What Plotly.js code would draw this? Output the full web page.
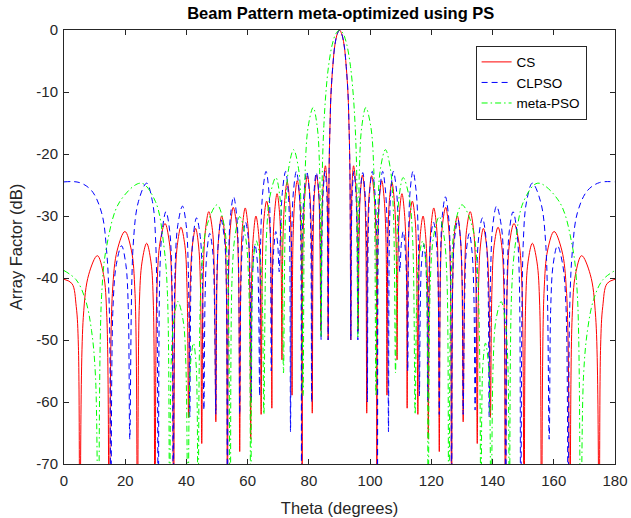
<!DOCTYPE html>
<html>
<head>
<meta charset="utf-8">
<script src="https://cdn.plot.ly/plotly-3.0.1.min.js"></script>
<style>body{margin:0;padding:0;background:#fff;}#chart{width:631px;height:518px;}</style>
</head>
<body>
<div id="chart"></div>
<script>
// Theta (degrees) and array factor (dB)
const csTheta = [0,2.6,4.0,4.7,5.2,6.3,8.1,10.9,12.9,14.0,14.8,15.8,17.4,19.9,22.0,23.2,24.0,24.6,25.5,27.0,28.4,29.2,29.7,30.4,31.4,33.0,34.4,35.2,35.8,36.3,37.0,38.2,39.5,40.2,40.7,41.2,41.9,43.0,44.0,44.6,45.0,45.5,46.2,47.3,48.5,49.1,49.6,50.0,50.6,51.5,52.5,53.0,53.4,53.8,54.4,55.3,56.4,57.0,57.4,57.8,58.3,59.2,60.1,60.6,61.0,61.3,61.9,62.7,63.6,64.1,64.4,64.8,65.3,66.2,67.1,67.6,67.9,68.2,68.8,69.6,70.4,70.9,71.2,71.5,72.1,72.9,73.7,74.2,74.5,74.8,75.4,76.2,77.0,77.5,77.8,78.1,78.7,79.5,80.3,80.8,81.1,81.4,81.8,82.5,83.2,83.6,83.9,84.2,84.7,85.4,85.9,86.1,86.3,86.6,86.9,87.2,87.8,88.5,89.3,90,
90.7,91.5,92.2,92.8,93.1,93.4,93.7,93.9,94.1,94.6,95.3,95.8,96.1,96.4,96.8,97.5,98.2,98.6,98.9,99.2,99.7,100.5,101.3,101.9,102.2,102.5,103.0,103.8,104.6,105.2,105.5,105.8,106.3,107.1,107.9,108.5,108.8,109.1,109.6,110.4,111.2,111.8,112.1,112.4,112.9,113.8,114.7,115.2,115.6,115.9,116.4,117.3,118.1,118.7,119.0,119.4,119.9,120.8,121.7,122.2,122.6,123.0,123.6,124.7,125.6,126.2,126.6,127.0,127.5,128.5,129.4,130.0,130.4,130.9,131.5,132.7,133.8,134.5,135.0,135.4,136.0,137.0,138.1,138.8,139.3,139.8,140.5,141.8,143.0,143.7,144.2,144.8,145.6,147.0,148.6,149.6,150.3,150.8,151.6,153.0,154.5,155.4,156.0,156.8,158.0,160.1,162.6,164.2,165.2,166.0,167.1,169.1,171.9,173.7,174.8,175.3,176.0,177.4,180];
const csDb = [-40.2,-40.9,-44.6,-51,-85,-46.4,-39.4,-36.4,-39.4,-46.4,-85,-42.5,-35.5,-32.5,-35.5,-42.5,-85,-44.4,-37.4,-34.4,-37.4,-44.4,-85,-41.2,-34.2,-31.2,-34.2,-41.2,-85,-41.8,-34.8,-31.8,-34.8,-41.8,-62.5,-42,-35,-32,-35,-42,-66.7,-39.3,-32.3,-29.3,-32.3,-39.3,-63.2,-40,-33,-30,-33,-40,-85,-38.6,-31.6,-28.6,-31.6,-38.6,-68,-38.7,-31.7,-28.7,-31.7,-38.7,-66,-40,-33,-30,-33,-40,-62,-37.6,-30.6,-27.6,-30.6,-37.6,-61,-36.4,-29.4,-26.4,-29.4,-36.4,-53.2,-34.5,-27.5,-24.5,-27.5,-34.5,-58.9,-34.3,-27.3,-24.3,-27.3,-34.3,-75,-33.5,-26.5,-23.5,-26.5,-33.5,-61.8,-33.4,-26.4,-23.4,-26.4,-33.4,-48.5,-31.9,-24.9,-21.9,-24.9,-31.9,-50,-22.5,-15.4,-10.5,-5.9,-2.4,-0.6,0,
-0.6,-2.4,-5.9,-10.5,-15.4,-22.5,-50,-31.9,-24.9,-21.9,-24.9,-31.9,-48.5,-33.4,-26.4,-23.4,-26.4,-33.4,-61.8,-33.5,-26.5,-23.5,-26.5,-33.5,-75,-34.3,-27.3,-24.3,-27.3,-34.3,-58.9,-34.5,-27.5,-24.5,-27.5,-34.5,-53.2,-36.4,-29.4,-26.4,-29.4,-36.4,-61,-37.6,-30.6,-27.6,-30.6,-37.6,-62,-40,-33,-30,-33,-40,-66,-38.7,-31.7,-28.7,-31.7,-38.7,-68,-38.6,-31.6,-28.6,-31.6,-38.6,-85,-40,-33,-30,-33,-40,-63.2,-39.3,-32.3,-29.3,-32.3,-39.3,-66.7,-42,-35,-32,-35,-42,-62.5,-41.8,-34.8,-31.8,-34.8,-41.8,-85,-41.2,-34.2,-31.2,-34.2,-41.2,-85,-44.4,-37.4,-34.4,-37.4,-44.4,-85,-42.5,-35.5,-32.5,-35.5,-42.5,-85,-46.4,-39.4,-36.4,-39.4,-46.4,-85,-51,-44.6,-40.9,-40.2];

const clTheta = [0,5,9,12.3,13.9,14.8,15.3,16.0,17.1,18.8,20.2,21.0,21.5,22.6,24.3,27.0,28.9,30.0,30.8,31.3,32.1,33.3,34.5,35.2,35.7,36.3,37.2,38.7,39.9,40.6,41.1,41.5,42.2,43.3,44.5,45.2,45.7,46.1,46.7,47.6,48.6,49.1,49.6,49.9,50.5,51.3,52.4,53.0,53.4,53.8,54.4,55.4,56.4,57.0,57.4,57.8,58.4,59.3,60.3,60.8,61.2,61.4,61.8,62.4,63.2,63.6,63.9,64.3,65.0,66.0,66.9,67.4,67.7,68.0,68.5,69.2,69.8,70.3,70.7,71.4,72.4,73.2,73.7,74.0,74.4,75.0,75.9,76.8,77.3,77.6,77.9,78.5,79.3,80.1,80.6,80.9,81.2,81.7,82.4,83.2,83.7,84.0,84.3,84.7,85.3,85.8,86.1,86.3,86.6,86.9,87.2,87.8,88.5,89.3,90,
90.7,91.5,92.2,92.8,93.1,93.4,93.7,93.9,94.2,94.7,95.3,95.7,96.0,96.3,96.8,97.6,98.3,98.8,99.1,99.4,99.9,100.7,101.5,102.1,102.4,102.7,103.2,104.1,105.0,105.6,106.0,106.3,106.8,107.6,108.6,109.3,109.7,110.2,110.8,111.5,112.0,112.3,112.6,113.1,114.0,115.0,115.7,116.1,116.4,116.8,117.6,118.2,118.6,118.8,119.2,119.7,120.7,121.6,122.2,122.6,123.0,123.6,124.6,125.6,126.2,126.6,127.0,127.6,128.7,129.5,130.1,130.4,130.9,131.4,132.4,133.3,133.9,134.3,134.8,135.5,136.7,137.8,138.5,138.9,139.4,140.1,141.3,142.8,143.7,144.3,144.8,145.5,146.7,147.9,148.7,149.2,150.0,151.1,153.0,155.7,157.4,158.5,159.0,159.8,161.2,162.9,164.0,164.7,165.2,166.1,167.7,171,175,180];
const clDb = [-24.5,-24.6,-25.9,-29.5,-35.5,-45,-85,-44.8,-37.8,-34.8,-37.8,-44.8,-66,-34.7,-27.7,-24.7,-27.7,-34.7,-85,-39.3,-32.3,-29.3,-32.3,-39.3,-85,-38.4,-31.4,-28.4,-31.4,-38.4,-62.4,-40.3,-33.3,-30.3,-33.3,-40.3,-61.3,-42.8,-35.8,-32.8,-35.8,-42.8,-62,-40.6,-33.6,-30.6,-33.6,-40.6,-85,-36.9,-29.9,-26.9,-29.9,-36.9,-62,-41,-34,-31,-34,-41,-60,-44.6,-37.6,-34.6,-37.6,-44.6,-59,-32.8,-25.8,-22.8,-25.8,-32.8,-55,-42.5,-35.5,-32.5,-34.5,-39,-32.8,-25.8,-22.8,-25.8,-32.8,-64.8,-32.8,-25.8,-22.8,-25.8,-32.8,-85,-32.8,-25.8,-22.8,-25.8,-32.8,-60,-33,-26,-23,-26,-33,-50,-32.8,-25.8,-22.8,-25.8,-32.8,-50,-22.5,-15.4,-10.5,-5.9,-2.4,-0.6,0,
-0.6,-2.4,-5.9,-10.5,-15.4,-22.5,-50,-32.8,-25.8,-22.8,-25.8,-32.8,-50,-33,-26,-23,-26,-33,-60,-32.8,-25.8,-22.8,-25.8,-32.8,-85,-32.8,-25.8,-22.8,-25.8,-32.8,-64.8,-32.8,-25.8,-22.8,-25.8,-32.8,-39,-34.5,-32.5,-35.5,-42.5,-55,-32.8,-25.8,-22.8,-25.8,-32.8,-59,-44.6,-37.6,-34.6,-37.6,-44.6,-60,-41,-34,-31,-34,-41,-62,-36.9,-29.9,-26.9,-29.9,-36.9,-85,-40.6,-33.6,-30.6,-33.6,-40.6,-62,-42.8,-35.8,-32.8,-35.8,-42.8,-61.3,-40.3,-33.3,-30.3,-33.3,-40.3,-62.4,-38.4,-31.4,-28.4,-31.4,-38.4,-85,-39.3,-32.3,-29.3,-32.3,-39.3,-85,-34.7,-27.7,-24.7,-27.7,-34.7,-66,-44.8,-37.8,-34.8,-37.8,-44.8,-85,-45,-35.5,-29.5,-25.9,-24.6,-24.5];

const mpTheta = [0,4,7,9,10.3,11.2,12.3,14.0,18.2,25.2,29.9,32.6,33.8,34.5,35.0,35.9,37.2,38.9,39.8,40.5,40.9,41.4,42.3,43.1,43.5,43.8,45.0,46.9,50.0,52.2,53.4,54.3,54.9,55.9,57.4,59.2,60.3,61.0,61.4,61.9,62.8,64.1,64.8,65.3,66.1,67.3,69.2,70.5,71.2,71.7,72.4,73.4,75.0,76.6,77.5,78.1,78.8,79.8,81.4,82.7,83.5,84.0,84.4,84.9,85.5,86.4,87.6,88.8,90,
91.2,92.4,93.6,94.5,95.1,95.6,96.0,96.5,97.3,98.6,100.2,101.2,101.9,102.5,103.4,105.0,106.6,107.6,108.3,108.8,109.5,110.8,112.7,113.9,114.7,115.2,115.9,117.2,118.1,118.6,119.0,119.7,120.8,122.6,124.1,125.1,125.7,126.6,127.8,130.0,133.1,135.0,136.2,136.5,136.9,137.7,138.6,139.1,139.5,140.2,141.1,142.8,144.1,145.0,145.5,146.2,147.4,150.1,154.8,161.8,166.0,167.7,168.8,169.7,171,173,176,180];
const mpDb = [-38.8,-40.3,-43.5,-48.5,-56,-85,-42.7,-34.7,-27.7,-24.7,-27.7,-34.7,-42.7,-85,-53.8,-46.8,-43.8,-46.8,-53.8,-85,-60.5,-53.5,-50.5,-53.5,-60.5,-85,-38.2,-31.2,-28.2,-31.2,-38.2,-85,-40.1,-33.1,-30.1,-33.1,-40.1,-85,-44,-37,-34,-37,-44,-62,-33.8,-26.8,-23.8,-26.8,-33.8,-55.3,-29.3,-22.3,-19.3,-22.3,-29.3,-59,-22.5,-15.5,-12.5,-15.5,-22.5,-49.5,-22.5,-15.4,-10.5,-5.9,-2.4,-0.6,0,
-0.6,-2.4,-5.9,-10.5,-15.4,-22.5,-49.5,-22.5,-15.5,-12.5,-15.5,-22.5,-59,-29.3,-22.3,-19.3,-22.3,-29.3,-55.3,-33.8,-26.8,-23.8,-26.8,-33.8,-62,-44,-37,-34,-37,-44,-85,-40.1,-33.1,-30.1,-33.1,-40.1,-85,-38.2,-31.2,-28.2,-31.2,-38.2,-85,-60.5,-53.5,-50.5,-53.5,-60.5,-85,-53.8,-46.8,-43.8,-46.8,-53.8,-85,-42.7,-34.7,-27.7,-24.7,-27.7,-34.7,-42.7,-85,-56,-48.5,-43.5,-40.3,-38.8];

const seriesNames = ['CS', 'CLPSO', 'meta-PSO'];
const xTicks = [0,20,40,60,80,100,120,140,160,180];
const yTicks = [0,-10,-20,-30,-40,-50,-60,-70];

const FONT = '"Liberation Sans", Arial, Helvetica, sans-serif';
const AX = '#262626';

const traces = [
  {x: csTheta, y: csDb, name: seriesNames[0], type: 'scatter', mode: 'lines',
   line: {color: '#ff0000', width: 1, shape: 'spline', smoothing: 1}},
  {x: clTheta, y: clDb, name: seriesNames[1], type: 'scatter', mode: 'lines',
   line: {color: '#0000ff', width: 1, dash: '6px,4px', shape: 'spline', smoothing: 1}},
  {x: mpTheta, y: mpDb, name: seriesNames[2], type: 'scatter', mode: 'lines',
   line: {color: '#00ff00', width: 1, dash: '6px,3px,1.5px,3px', shape: 'spline', smoothing: 1}}
];

const axisCommon = {
  showline: true, mirror: 'ticks', linecolor: AX, linewidth: 1,
  ticks: 'inside', ticklen: 5, tickcolor: AX, tickwidth: 1,
  showgrid: false, zeroline: false,
  tickfont: {family: FONT, size: 15, color: AX}
};

const layout = {
  width: 631, height: 518,
  margin: {l: 64, r: 16, t: 30, b: 54},
  paper_bgcolor: '#ffffff', plot_bgcolor: '#ffffff',
  font: {family: FONT, color: AX},
  title: {text: '<b>Beam Pattern meta-optimized using PS</b>',
          font: {family: FONT, size: 16.5, color: '#000000'},
          x: 0.54, xanchor: 'center', y: 0.974, yanchor: 'middle', yref: 'container'},
  xaxis: Object.assign({}, axisCommon, {
    range: [0, 180], tickvals: xTicks, ticktext: xTicks.map(String), ticklabelstandoff: 3,
    title: {text: 'Theta (degrees)', font: {family: FONT, size: 16.5, color: AX}, standoff: 14}
  }),
  yaxis: Object.assign({}, axisCommon, {
    range: [-70, 0], tickvals: yTicks, ticktext: yTicks.map(String), ticklabelstandoff: 2,
    title: {text: 'Array Factor (dB)', font: {family: FONT, size: 16.5, color: AX}, standoff: 9}
  }),
  showlegend: true,
  legend: {x: 0.747, y: 0.964, xanchor: 'left', yanchor: 'top',
           bgcolor: '#ffffff', bordercolor: AX, borderwidth: 1,
           font: {family: FONT, size: 13.5, color: '#000000'},
           tracegroupgap: 0, itemwidth: 30, entrywidth: 85, entrywidthmode: 'pixels'}
};

Plotly.newPlot('chart', traces, layout, {displayModeBar: false, staticPlot: true});
</script>
</body>
</html>
